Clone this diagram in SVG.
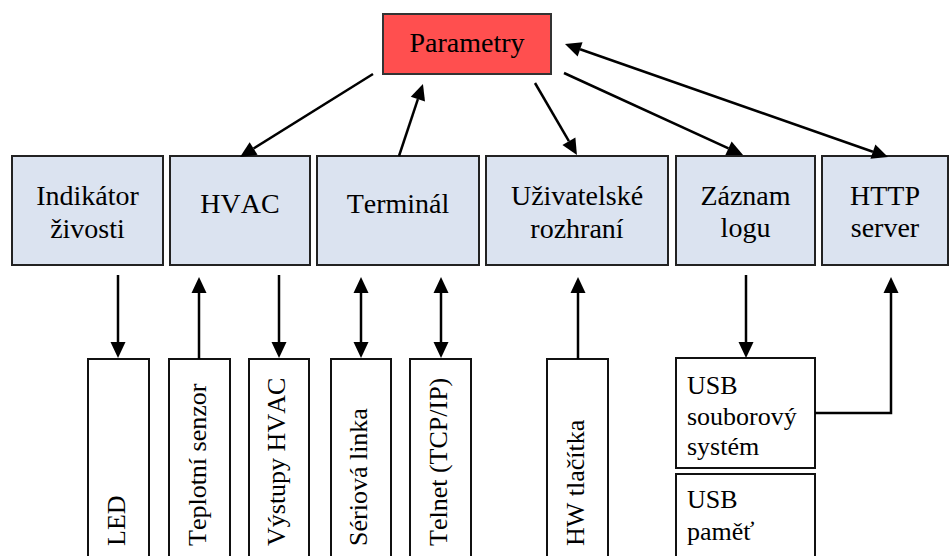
<svg xmlns="http://www.w3.org/2000/svg" width="952" height="556" viewBox="0 0 952 556" font-family="'Liberation Serif', Tinos, 'DejaVu Serif', serif">
  <style>
    text { font-family: "Liberation Serif", Tinos, "DejaVu Serif", serif; fill: #000; font-kerning: none; }
    .t { font-size: 28px; text-anchor: middle; }
    .v { font-size: 26px; }
    .l { font-size: 26px; }
    .mod { fill: #DBE3F0; stroke: #222; stroke-width: 2; }
    .hw { fill: #fff; stroke: #111; stroke-width: 2; }
    .par { fill: #FF4F4F; stroke: #333; stroke-width: 2; }
    .c { fill: none; stroke: #000; stroke-width: 2.5; }
    .one { marker-end: url(#ah); }
    .two { marker-start: url(#ah); marker-end: url(#ah); }
  </style>
  <defs>
    <marker id="ah" markerUnits="userSpaceOnUse" markerWidth="17" markerHeight="16" refX="0" refY="7.5" orient="auto-start-reverse" overflow="visible">
      <path d="M0,0 L16,7.5 L0,15 z" fill="#000"/>
    </marker>
  </defs>

  <!-- central parameter store -->
  <g id="parametry">
    <rect class="par" x="383" y="14" width="168" height="60"/>
    <text class="t" x="467" y="52">Parametry</text>
  </g>

  <!-- software modules -->
  <g id="indikator">
    <rect class="mod" x="12" y="156" width="151" height="109"/>
    <text class="t" x="87.5" y="205">Indikátor</text>
    <text class="t" x="87.5" y="238">živosti</text>
  </g>
  <g id="hvac">
    <rect class="mod" x="170" y="156" width="140" height="109"/>
    <text class="t" x="240" y="213">HVAC</text>
  </g>
  <g id="terminal">
    <rect class="mod" x="317" y="156" width="162" height="109"/>
    <text class="t" x="398" y="213">Terminál</text>
  </g>
  <g id="uzivatelske">
    <rect class="mod" x="486" y="156" width="182" height="109"/>
    <text class="t" x="577" y="205">Uživatelské</text>
    <text class="t" x="577" y="238">rozhraní</text>
  </g>
  <g id="zaznam">
    <rect class="mod" x="676" y="156" width="139" height="109"/>
    <text class="t" x="745.5" y="205">Záznam</text>
    <text class="t" x="745.5" y="237">logu</text>
  </g>
  <g id="http">
    <rect class="mod" x="822" y="156" width="126" height="109"/>
    <text class="t" x="885" y="205">HTTP</text>
    <text class="t" x="885" y="237">server</text>
  </g>

  <!-- hardware / transport layer -->
  <g id="led">
    <rect class="hw" x="88" y="359" width="61" height="210"/>
    <text class="v" transform="translate(124.5,546) rotate(-90)">LED</text>
  </g>
  <g id="teplotni">
    <rect class="hw" x="169" y="359" width="61" height="210"/>
    <text class="v" transform="translate(205.5,546) rotate(-90)">Teplotní senzor</text>
  </g>
  <g id="vystupy">
    <rect class="hw" x="249" y="359" width="60" height="210"/>
    <text class="v" transform="translate(285,546) rotate(-90)">Výstupy HVAC</text>
  </g>
  <g id="seriova">
    <rect class="hw" x="331" y="359" width="60" height="210"/>
    <text class="v" transform="translate(367,546) rotate(-90)">Sériová linka</text>
  </g>
  <g id="telnet">
    <rect class="hw" x="410" y="359" width="61" height="210"/>
    <text class="v" transform="translate(446.5,546) rotate(-90)">Telnet (TCP/IP)</text>
  </g>
  <g id="tlacitka">
    <rect class="hw" x="547" y="359" width="61" height="210"/>
    <text class="v" transform="translate(583.5,546) rotate(-90)">HW tlačítka</text>
  </g>
  <g id="usb-fs">
    <rect class="hw" x="676" y="358" width="139" height="110"/>
    <text class="l" x="687" y="394">USB</text>
    <text class="l" x="687" y="425">souborový</text>
    <text class="l" x="687" y="455">systém</text>
  </g>
  <g id="usb-mem">
    <rect class="hw" x="676" y="474" width="139" height="95"/>
    <text class="l" x="687" y="508">USB</text>
    <text class="l" x="687" y="540">paměť</text>
  </g>

  <!-- connectors -->
  <g id="connectors">
    <path class="c one" d="M373,74 L253.6,148.5"/>
    <path class="c one" d="M399,156 L417.9,99.2"/>
    <path class="c one" d="M535,83 L568.9,141.2"/>
    <path class="c one" d="M564,73 L728.5,148.3"/>
    <path class="c two" d="M580.1,49.3 L872.9,151.7"/>

    <path class="c one" d="M118,275 V342"/>
    <path class="c one" d="M199,359 V293"/>
    <path class="c one" d="M279,275 V342"/>
    <path class="c two" d="M361,293 V342"/>
    <path class="c two" d="M441,293 V342"/>
    <path class="c one" d="M578,359 V293"/>
    <path class="c one" d="M746,275 V342"/>
    <path class="c one" d="M815,413 H891 V293"/>
  </g>
</svg>
